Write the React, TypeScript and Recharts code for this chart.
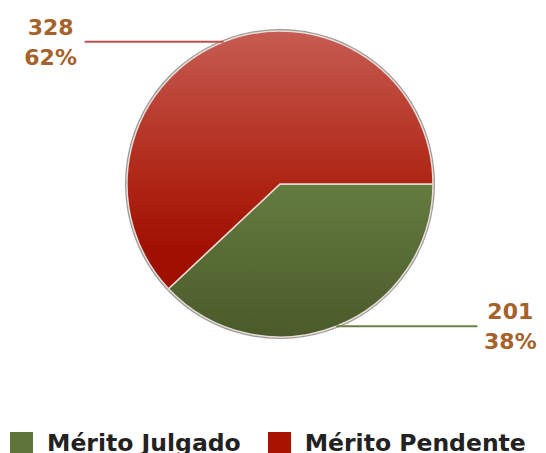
import { Pie, PieChart } from "recharts";

const categories = ["Mérito Julgado", "Mérito Pendente"];
const counts = [201, 328];
const legendColors = ["#5e7438", "#a81200"];
const lineColors = ["#6b7f45", "#c0504d"];

const data = categories.map((name, i) => ({ name, value: counts[i] }));

const RAD = Math.PI / 180;

function renderLabel(props: any) {
  const { cx, cy, midAngle, outerRadius, value, percent, index } = props;
  const x0 = cx + outerRadius * Math.cos(-midAngle * RAD);
  const y0 = cy + outerRadius * Math.sin(-midAngle * RAD);
  const right = x0 > cx;
  const x1 = right ? x0 + 141 : x0 - 139;
  const tx = right ? x1 + 33 : x1 - 34;
  return (
    <g>
      <line x1={x0} y1={y0} x2={x1} y2={y0} stroke={lineColors[index]} strokeWidth={2} />
      <text
        x={tx}
        textAnchor="middle"
        fill="#a5622a"
        fontFamily="DejaVu Sans"
        fontWeight="bold"
        fontSize={22}
      >
        <tspan x={tx} y={y0 - 7}>{value}</tspan>
        <tspan x={tx} y={y0 + 23}>{Math.round(percent * 100)}%</tspan>
      </text>
    </g>
  );
}

function ChartLegend() {
  return (
    <div
      style={{
        position: "absolute",
        left: 10,
        top: 429,
        display: "flex",
        alignItems: "center",
        fontFamily: "DejaVu Sans",
        fontWeight: "bold",
        fontSize: 23.5,
        color: "#222",
        whiteSpace: "nowrap",
      }}
    >
      {categories.map((c, i) => (
        <div key={c} style={{ display: "flex", alignItems: "center", marginRight: 27 }}>
          <span style={{ width: 23, height: 23, background: legendColors[i], marginRight: 14, display: "inline-block" }} />
          <span>{c}</span>
        </div>
      ))}
    </div>
  );
}

export default function App() {
  return (
    <div style={{ position: "absolute", left: 0, top: 0, width: 546, height: 453, background: "#fff", overflow: "hidden" }}>
      <PieChart width={546} height={453} margin={{ top: 0, right: 0, bottom: 0, left: 0 }}>
        <defs>
          <linearGradient id="gGreen" x1="0" y1="0" x2="0" y2="1">
            <stop offset="0%" stopColor="#647c40" />
            <stop offset="100%" stopColor="#4a5a2a" />
          </linearGradient>
          <linearGradient id="gRed" x1="0" y1="0" x2="0" y2="1">
            <stop offset="0%" stopColor="#c65c52" />
            <stop offset="55%" stopColor="#b02818" />
            <stop offset="85%" stopColor="#a01000" />
            <stop offset="100%" stopColor="#a01000" />
          </linearGradient>
        </defs>
        <Pie
          data={data}
          dataKey="value"
          cx={280}
          cy={184}
          outerRadius={155}
          startAngle={0}
          endAngle={-360}
          fill="#9a9a9a"
          stroke="none"
          isAnimationActive={false}
          label={false}
          labelLine={false}
          legendType="none"
        />
        <Pie
          data={data.map((d, i) => ({ ...d, fill: i === 0 ? "url(#gGreen)" : "url(#gRed)" }))}
          dataKey="value"
          cx={280}
          cy={184}
          outerRadius={153}
          startAngle={0}
          endAngle={-360}
          stroke="#e9dcd6"
          strokeWidth={1.5}
          isAnimationActive={false}
          label={renderLabel}
          labelLine={false}
        />
      </PieChart>
      <ChartLegend />
    </div>
  );
}
